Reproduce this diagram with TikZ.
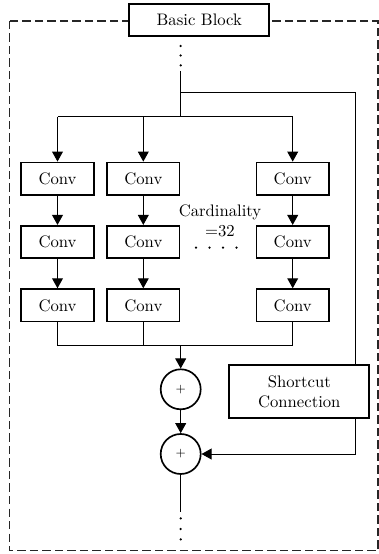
\documentclass[tikz,border=0pt]{standalone}
\usepackage{amsmath}
\usepackage{tikz}
\usetikzlibrary{arrows.meta, positioning}

\begin{document}
\begin{tikzpicture}[x=0.6pt, y=-0.6pt,
        conv/.style={draw, line width=1pt, minimum width=43.5pt, minimum height=19.5pt, inner sep=1pt},
        sum/.style={draw, circle, line width=1pt, minimum size=24pt, inner sep=0pt, font=\scriptsize},
        flow/.style={line width=0.6pt},
        arr/.style={flow, -{Triangle[length=6pt, width=6.5pt]}},
        node distance=17.5pt]
        \useasboundingbox (0,0) rectangle (379,554);

        % Outer frame and title
        \draw[black!85, line width=0.7pt, dash pattern=on 5pt off 2.5pt] (9.5,21) rectangle (378,550.5);
        \node[draw, fill=white, line width=1pt, minimum width=84pt, minimum height=19.5pt] (block) at (199.3,20) {Basic Block};

        % Add the conv paths
        \node[conv] (c11) at (57.5,178.7) {Conv};
        \node[conv] (c21) at (143.3,178.7) {Conv};
        \node[conv] (c31) at (292.7,178.7) {Conv};
        \node[conv, below=of c11] (c12) {Conv};
        \node[conv, below=of c21] (c22) {Conv};
        \node[conv, below=of c31] (c32) {Conv};
        \node[conv, below=of c12] (c13) {Conv};
        \node[conv, below=of c22] (c23) {Conv};
        \node[conv, below=of c32] (c33) {Conv};

        \node[align=center, inner sep=0pt] (card) at (220,221) {Cardinality\\=32};
        \foreach \x in {196,209.5,223,236.5}
            \fill (\x,247.7) circle (0.75pt);

        % Adders and shortcut
        \node[sum] (sum1) at (180.7,389.3) {$+$};
        \node[sum] (sum2) at (180.7,454) {$+$};
        \node[draw, line width=1pt, minimum width=84pt, minimum height=31.5pt, align=center] (short) at (299.3,391.5) {Shortcut\\Connection};

        \coordinate (in) at (180.7,71);
        \coordinate (split) at (180.7,117);
        \coordinate (sc) at (180.7,93);
        \coordinate (rail) at (355,93);
        \coordinate (merge) at (180.7,345);
        \coordinate (out) at (180.7,511.7);

        \foreach \y in {46,55.5,65.3}
            \fill (180.7,\y) circle (0.75pt);
        \foreach \y in {518.3,529,539.3}
            \fill (180.7,\y) circle (0.75pt);

        \draw[flow] (in) -- (split);
        \draw[flow] (c11 |- split) -- (c31 |- split);
        \foreach \c in {c11,c21,c31}
            \draw[arr] (\c |- split) -- (\c);
        \draw[arr]
            (c11) edge (c12) (c12) edge (c13)
            (c21) edge (c22) (c22) edge (c23)
            (c31) edge (c32) (c32) edge (c33);
        \draw[flow] (c13) -- (c13 |- merge) -- (c33 |- merge) -- (c33);
        \draw[flow] (c23) -- (c23 |- merge);
        \draw[arr] (merge) -- (sum1);
        \draw[arr] (sum1) -- (sum2);
        \draw[flow] (sc) -- (rail) -- (rail |- short.north);
        \draw[arr] (rail |- short.south) -- (rail |- sum2) -- (sum2);
        \draw[flow] (sum2) -- (out);
\end{tikzpicture}
\end{document}
